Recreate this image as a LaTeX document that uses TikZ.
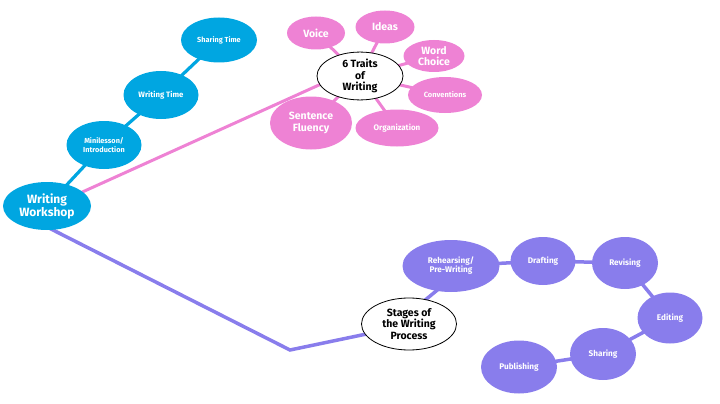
\documentclass[tikz,border=0pt]{standalone}
\usepackage{fontspec}
\setmainfont{Fira Sans}
\usetikzlibrary{shapes.geometric,backgrounds}
\definecolor{wblue}{RGB}{0,166,225}
\definecolor{wpink}{RGB}{238,130,212}
\definecolor{wpurple}{RGB}{137,125,236}
\tikzset{
  bub/.style={ellipse,inner sep=0pt,align=center,text=white,font=\bfseries\fontsize{#1}{#1}\selectfont},
  bluebub/.style={bub=7.8,fill=wblue},
  pinkbub/.style={bub=10.5,fill=wpink},
  purpbub/.style={bub=8.2,fill=wpurple},
  hubbub/.style={ellipse,inner sep=0pt,align=center,draw=black,fill=white,thick,text=black,font=\bfseries\fontsize{10.5}{11.5}\selectfont},
  blueline/.style={draw=wblue,line width=3.2pt},
  pinkline/.style={draw=wpink,line width=3pt},
  purpline/.style={draw=wpurple,line width=3.5pt},
}
\begin{document}
\begin{tikzpicture}[x=1pt,y=-1pt]
\useasboundingbox (0,0) rectangle (720,404);
% blue nodes
\node[bluebub,minimum width=88pt,minimum height=48pt,font=\bfseries\fontsize{12}{13}\selectfont] (ww) at (47,206) {Writing\\Workshop};
\node[bluebub,minimum width=75pt,minimum height=48pt,font=\bfseries\fontsize{7.3}{8.3}\selectfont] (mini) at (104,145) {Minilesson/\\Introduction};
\node[bluebub,minimum width=75pt,minimum height=48pt] (wt) at (161,95) {Writing Time};
\node[bluebub,minimum width=76pt,minimum height=45pt,font=\bfseries\fontsize{7.3}{8.3}\selectfont] (st) at (219,40) {Sharing Time};
% pink nodes
\node[pinkbub,minimum width=58pt,minimum height=33pt] (voice) at (316,33) {Voice};
\node[pinkbub,minimum width=59pt,minimum height=33pt] (ideas) at (385,27) {Ideas};
\node[pinkbub,minimum width=61pt,minimum height=32pt,font=\bfseries\fontsize{10.5}{11}\selectfont] (word) at (434,56) {Word\\Choice};
\node[pinkbub,minimum width=74pt,minimum height=36pt,font=\bfseries\fontsize{7.5}{8}\selectfont] (conv) at (445,95) {Conventions};
\node[pinkbub,minimum width=83pt,minimum height=37pt,font=\bfseries\fontsize{8}{9}\selectfont] (org) at (397,128) {Organization};
\node[pinkbub,minimum width=82pt,minimum height=53pt,font=\bfseries\fontsize{10.5}{11.5}\selectfont] (sent) at (311,123) {Sentence\\Fluency};
\node[hubbub,minimum width=86pt,minimum height=46pt] (traits) at (360,76) {6 Traits\\of\\Writing};
% purple nodes
\node[hubbub,minimum width=95pt,minimum height=52pt] (stages) at (409,324) {Stages of\\the Writing\\Process};
\node[purpbub,minimum width=97pt,minimum height=52pt,font=\bfseries\fontsize{8.2}{9}\selectfont] (reh) at (451,266) {Rehearsing/\\Pre-Writing};
\node[purpbub,minimum width=65pt,minimum height=48pt] (draft) at (543,261) {Drafting};
\node[purpbub,minimum width=66pt,minimum height=52pt] (rev) at (625,263) {Revising};
\node[purpbub,minimum width=65pt,minimum height=51pt] (edit) at (670,318) {Editing};
\node[purpbub,minimum width=66pt,minimum height=52pt] (shar) at (603,354) {Sharing};
\node[purpbub,minimum width=76pt,minimum height=53pt] (pub) at (519,367) {Publishing};
% free coordinates for connector ends
\coordinate (wwc) at (47,208);
\coordinate (wws) at (49,228);
\coordinate (corner) at (290,350);
\coordinate (stw) at (400,327);
\coordinate (sr1) at (418,306);
\coordinate (sr2) at (447,282);
\coordinate (tin) at (330,80);
% connectors under the nodes
\begin{scope}[on background layer]
\path[blueline] (ww.center) -- (mini.center) -- (wt.center) -- (st.center);
\path[pinkline] (wwc) -- (tin);
\path[purpline] (wws) -- (corner) -- (stw);
\foreach \t in {voice,ideas,word,conv,org,sent}
  \path[pinkline] (traits.center) -- (\t.center);
\path[purpline] (sr1) -- (sr2);
\path[purpline] (reh.center) -- (draft.center) -- (rev.center) -- (edit.center) -- (shar.center) -- (pub.center);
\end{scope}
\end{tikzpicture}
\end{document}
